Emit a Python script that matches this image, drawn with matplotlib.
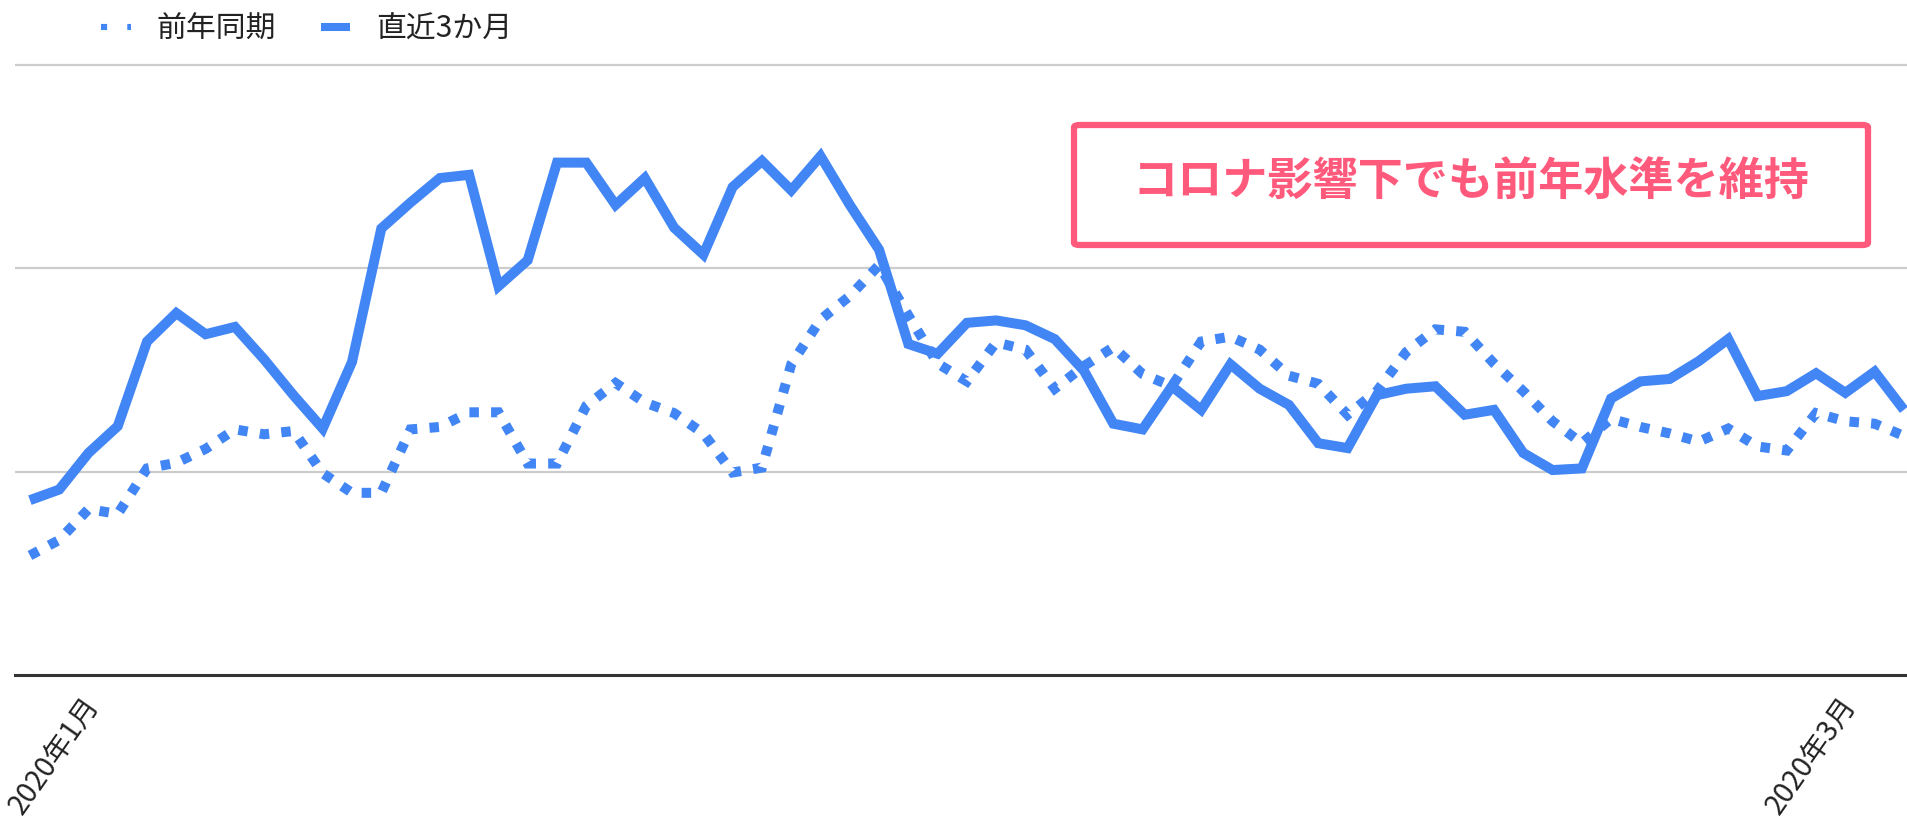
import matplotlib
matplotlib.use("Agg")
import matplotlib.pyplot as plt
import matplotlib.transforms as mtransforms
import pandas as pd
from matplotlib.lines import Line2D
from matplotlib.patches import FancyBboxPatch

plt.rcParams["font.family"] = ["Noto Sans CJK JP", "DejaVu Sans"]

# daily values, 2019-12-30 .. 2020-03-03
dates = pd.date_range("2019-12-30", periods=65, freq="D")

recent_3m = [21.5, 22.8, 27.3, 30.6, 41.0, 44.5, 41.9, 42.8, 38.8, 34.4,
             30.3, 38.5, 54.9, 58.1, 61.1, 61.5, 47.8, 51.0, 63.0, 63.0,
             57.8, 61.1, 55.0, 51.7, 60.0, 63.2, 59.6, 63.8, 57.8, 52.3,
             40.7, 39.5, 43.3, 43.6, 43.0, 41.3, 37.4, 30.9, 30.2, 35.5,
             32.6, 38.2, 35.2, 33.2, 28.5, 27.9, 34.4, 35.2, 35.5, 32.0,
             32.6, 27.3, 25.2, 25.4, 34.0, 36.1, 36.4, 38.6, 41.3, 34.3,
             34.9, 37.1, 34.7, 37.3, 32.6]

prev_year = [14.7, 16.6, 20.4, 19.8, 25.4, 26.1, 27.8, 30.2, 29.6, 30.0,
             24.8, 22.4, 22.4, 30.2, 30.5, 32.3, 32.3, 26.0, 26.0, 33.1,
             35.9, 33.5, 32.2, 29.7, 24.9, 25.5, 38.2, 43.7, 46.6, 50.4,
             44.2, 38.3, 36.1, 40.9, 40.0, 35.2, 38.0, 40.3, 37.0, 35.5,
             41.0, 41.6, 40.0, 36.8, 35.8, 32.0, 34.9, 39.7, 42.5, 42.2,
             38.3, 34.9, 31.2, 28.5, 31.5, 30.5, 29.7, 28.7, 30.3, 28.1,
             27.6, 32.2, 31.2, 30.9, 29.4]

tick_dates = pd.to_datetime(["2020-01-01", "2020-03-01"])
tick_labels = ["2020年1月", "2020年3月"]

series_names = ["前年同期", "直近3か月"]
note = "コロナ影響下でも前年水準を維持"

blue = "#4285f4"
pink = "#ff5a7c"

W, H = 1908, 824
fig = plt.figure(figsize=(W / 100, H / 100), dpi=100)
fig.patch.set_facecolor("white")

# plot area: left edge at x=15px, baseline at y=675px, 8.133 px per unit
left = 15 / W
bottom = 1 - 675 / H
ymax = 78
height = ymax * 8.133 / H
ax = fig.add_axes([left, bottom, 1 - left, height])

day = pd.Timedelta(days=1)
ax.set_xlim(dates[0] - 0.51 * day, dates[0] + 64.14 * day)
ax.set_ylim(0, ymax)

for y in [25, 50, 75]:
    ax.axhline(y, color="#cccccc", lw=1.6, zorder=1)
ax.axhline(0, color="#333333", lw=2.2, zorder=1, clip_on=False)

lw = 7.2
dot_style = (0, (0.95, 1.22))
ax.plot(dates, prev_year, color=blue, lw=lw, linestyle=dot_style,
        dash_capstyle="butt", dash_joinstyle="miter", zorder=3)
ax.plot(dates, recent_3m, color=blue, lw=lw, solid_joinstyle="miter",
        solid_capstyle="butt", zorder=4)

for s in ax.spines.values():
    s.set_visible(False)
ax.set_yticks([])
ax.set_xticks(tick_dates)
ax.set_xticklabels(tick_labels, rotation=55, ha="right", va="center",
                   rotation_mode="anchor", fontsize=20.5, color="#222222")
ax.tick_params(axis="x", length=0, pad=18)
shift = mtransforms.ScaledTranslation(5 / 100, 0, fig.dpi_scale_trans)
for lab in ax.get_xticklabels():
    lab.set_transform(lab.get_transform() + shift)

# legend across the top
handles = [
    Line2D([], [], color=blue, lw=4.4, linestyle=(0, (1, 3.3)),
           dash_capstyle="butt"),
    Line2D([], [], color=blue, lw=5.8, solid_capstyle="butt"),
]
fig.legend(handles, series_names, loc="center left",
           bbox_to_anchor=(101 / W, 1 - 29 / H), ncol=2, frameon=False,
           fontsize=21.5, labelcolor="#222222", handlelength=1.0,
           handletextpad=0.85, columnspacing=1.5, borderpad=0,
           borderaxespad=0)

# callout box
bx0, by0, bx1, by1 = 1074, 125, 1868, 245
box = FancyBboxPatch((bx0 / W, 1 - by1 / H), (bx1 - bx0) / W, (by1 - by0) / H,
                     boxstyle="round,pad=0,rounding_size=0.003",
                     transform=fig.transFigure, facecolor="white",
                     edgecolor=pink, lw=4.5, zorder=5)
fig.patches.append(box)
fig.text((bx0 + bx1) / 2 / W, 1 - 183 / H, note, ha="center", va="center",
         fontsize=32.5, fontweight="bold", color=pink, zorder=6)

fig.savefig("out.png", dpi=100, facecolor="white")
